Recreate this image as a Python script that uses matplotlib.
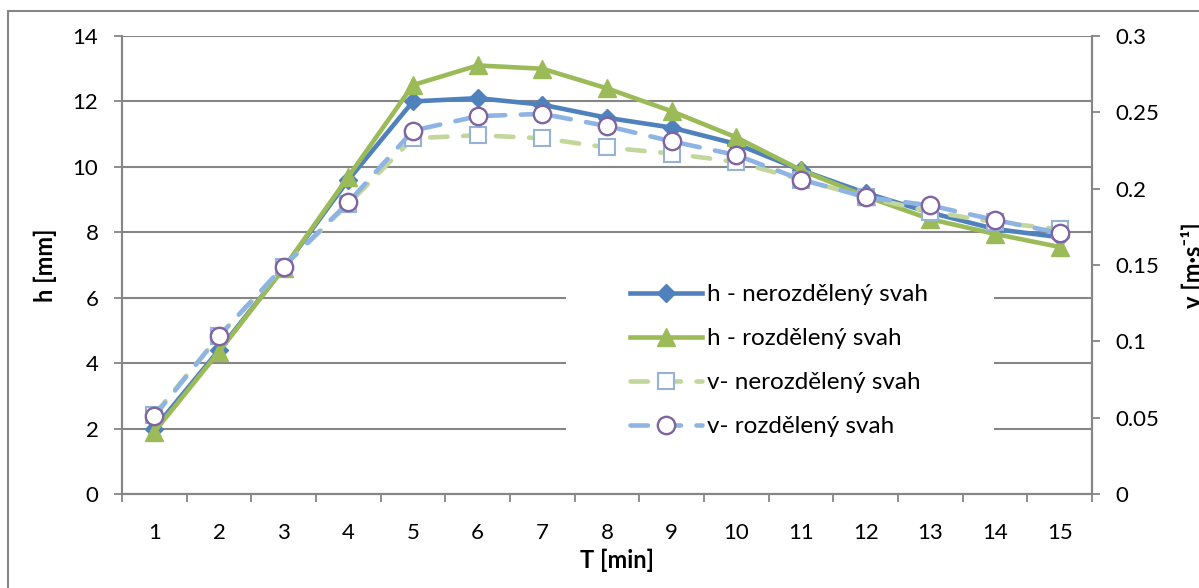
import matplotlib
matplotlib.use("Agg")
import matplotlib.pyplot as plt
from matplotlib.patches import Rectangle
from matplotlib.lines import Line2D

plt.rcParams['font.family'] = ['Lato', 'DejaVu Sans']

T = list(range(1, 16))
h_neroz = [2.0, 4.4, 6.9, 9.6, 12.0, 12.1, 11.9, 11.5, 11.2, 10.7, 9.9, 9.2, 8.6, 8.1, 7.85]
h_roz = [1.9, 4.35, 6.9, 9.7, 12.5, 13.1, 13.0, 12.4, 11.7, 10.9, 9.9, 9.1, 8.4, 7.95, 7.55]
v_neroz = [0.052, 0.1035, 0.149, 0.190, 0.233, 0.235, 0.233, 0.227, 0.223, 0.2175, 0.206, 0.1945, 0.185, 0.178, 0.1735]
v_roz = [0.051, 0.1035, 0.149, 0.191, 0.238, 0.2475, 0.249, 0.241, 0.231, 0.222, 0.206, 0.1945, 0.189, 0.1795, 0.171]
labels = ["h - nerozdělený svah", "h - rozdělený svah", "v- nerozdělený svah", "v- rozdělený svah"]

W, H = 1199, 588
fig = plt.figure(figsize=(W / 100, H / 100), dpi=100)
L, R, B, Tp = 122, 1092, 494, 36
ax = fig.add_axes([L / W, 1 - B / H, (R - L) / W, (B - Tp) / H])
ax2 = ax.twinx()

grey = '#868686'
ax.set_xlim(0.5, 15.5)
ax.set_ylim(0, 14)
ax2.set_ylim(0, 0.3)
ax.set_yticks(range(0, 15, 2))
ax2.set_yticks([0, 0.05, 0.1, 0.15, 0.2, 0.25, 0.3])
ax2.set_yticklabels(['0', '0.05', '0.1', '0.15', '0.2', '0.25', '0.3'])
ax.set_xticks([x + 0.5 for x in range(0, 16)])
ax.set_xticklabels([])
ax.set_xticks(T, minor=True)
ax.set_xticklabels([str(t) for t in T], minor=True)
ax.grid(axis='y', color=grey, lw=1.5)
ax.set_axisbelow(True)

for a in (ax, ax2):
    for s in a.spines.values():
        s.set_color(grey)
        s.set_linewidth(1.5)
    a.spines['top'].set_visible(False)
ax.tick_params(axis='y', which='major', direction='out', length=6, width=1.3, color=grey, pad=11, labelsize=16)
ax2.tick_params(axis='y', which='major', direction='out', length=6, width=1.3, color=grey, pad=11, labelsize=16)
ax.tick_params(axis='x', which='major', direction='out', length=6, width=1.3, color=grey)
ax.tick_params(axis='x', which='minor', length=0, pad=21, labelsize=16)

c_blue = '#4F81BD'
c_green = '#9BBB59'
lw = 3.3
dash = (3.8, 3.4)
st_hn = dict(color=c_blue, lw=lw, marker='D', ms=9, mfc=c_blue, mec=c_blue)
st_hr = dict(color=c_green, lw=lw, marker='^', ms=12.5, mfc=c_green, mec=c_green)
st_vn = dict(color='#C3D69B', lw=lw, dashes=dash, dash_capstyle='round', marker='s', ms=11.5,
             mfc='white', mec='#95B3D7', mew=1.5)
st_vr = dict(color='#8EB4E3', lw=lw, dashes=dash, dash_capstyle='round', marker='o', ms=12.5,
             mfc='white', mec='#8064A2', mew=1.7)
ax.plot(T, h_neroz, zorder=3, **st_hn)
ax.plot(T, h_roz, zorder=4, **st_hr)
ax2.plot(T, v_neroz, zorder=3, **st_vn)
ax2.plot(T, v_roz, zorder=4, **st_vr)

# legend background
bg = Rectangle((566 / W, 1 - 445 / H), (994 - 566) / W, (445 - 268) / H, transform=fig.transFigure,
               facecolor='white', edgecolor='none', zorder=1)
ax2.add_artist(bg)
handles = [Line2D([], [], **st_hn), Line2D([], [], **st_hr), Line2D([], [], **st_vn), Line2D([], [], **st_vr)]
leg = ax2.legend(handles, labels, loc='upper left', bbox_to_anchor=(630 / W, 1 - 284 / H),
                 bbox_transform=fig.transFigure, frameon=False, fontsize=17.5, borderpad=0,
                 borderaxespad=0, handlelength=2.95, handletextpad=0.2, labelspacing=0.95)

fig.text(617 / W, 1 - 560 / H, 'T [min]', ha='center', va='center', fontsize=17, fontweight='bold')
fig.text(45 / W, 1 - 265 / H, 'h [mm]', ha='center', va='center', rotation=90, fontsize=17, fontweight='bold')
fig.text(1181 / W, 1 - 265 / H, 'v [m·s⁻¹]', ha='left', va='center', rotation=90, fontsize=17, fontweight='bold')

fig.patches.append(Rectangle((8 / W, -0.1), 1.2, 1.1 - 11 / H, transform=fig.transFigure,
                             facecolor='none', edgecolor=grey, lw=1.5))

fig.savefig('out.png', dpi=100)
